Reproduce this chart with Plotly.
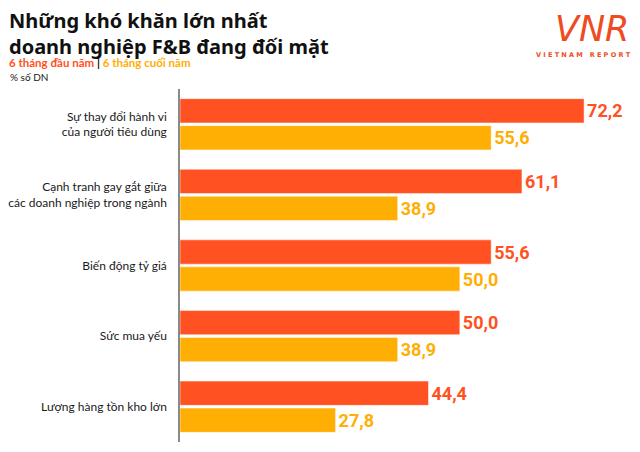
import plotly.graph_objects as go

# data
CATEGORIES = [
    "Sự thay đổi hành vi<br>của người tiêu dùng",
    "Cạnh tranh gay gắt giữa<br>các doanh nghiệp trong ngành",
    "Biến động tỷ giá",
    "Sức mua yếu",
    "Lượng hàng tồn kho lớn",
]
FIRST_HALF = [72.2, 61.1, 55.6, 50.0, 44.4]
SECOND_HALF = [55.6, 38.9, 50.0, 38.9, 27.8]
SERIES_NAMES = ["6 tháng đầu năm", "6 tháng cuối năm"]

TITLE = "Những khó khăn lớn nhất<br>doanh nghiệp F&B đang đối mặt"
UNIT = "% số DN"

RED = "#FF5121"
ORANGE = "#FFAE03"

# the page body has an 8px margin, so the figure is drawn 8px in from the corner
OFF = 8
W, H = 640 - OFF, 452 - OFF
M_L, M_R, M_T, M_B = 180 - OFF, 10, 89 - OFF, 10


def px_x(p):
    # window pixel x -> paper coordinate
    return (p - OFF - M_L) / (W - M_L - M_R)


def px_y(p):
    return 1 - (p - OFF - M_T) / (H - M_T - M_B)


def fmt(v):
    return f"{v:.1f}".replace(".", ",")


fig = go.Figure()
for name, vals, col in [(SERIES_NAMES[0], FIRST_HALF, RED),
                        (SERIES_NAMES[1], SECOND_HALF, ORANGE)]:
    fig.add_trace(go.Bar(
        y=CATEGORIES, x=vals, name=name, orientation="h",
        marker=dict(color=col, line=dict(color="rgba(255,255,255,0.5)", width=1)),
        text=[fmt(v) for v in vals],
        textposition="outside",
        constraintext="none",
        cliponaxis=False,
        textfont=dict(family="Roboto, sans-serif", size=18, color=col, weight="bold"),
        hoverinfo="skip",
    ))

fig.update_layout(
    width=W, height=H,
    margin=dict(l=M_L, r=M_R, t=M_T, b=M_B, autoexpand=False),
    barmode="group", bargap=0.235, bargroupgap=0.1,
    showlegend=False,
    plot_bgcolor="white", paper_bgcolor="white",
    xaxis=dict(range=[0, 80.4], visible=False, fixedrange=True, automargin=False),
    yaxis=dict(autorange="reversed", showline=True, linecolor="#8a8a8a", linewidth=1.5,
               ticks="", ticklabelstandoff=9, showgrid=False, automargin=False,
               tickfont=dict(family="Lato, sans-serif", size=12, color="#1a1a1a")),
    font=dict(family="Lato, sans-serif"),
)

fig.add_annotation(
    text=f"<b>{TITLE}</b>", xref="paper", yref="paper",
    x=px_x(8), y=px_y(6), xanchor="left", yanchor="top", align="left",
    showarrow=False, borderpad=0,
    font=dict(family="Noto Sans, sans-serif", size=20, color="#111111"),
)
fig.add_annotation(
    text=(f"<b><span style='color:{RED}'>{SERIES_NAMES[0]}</span> "
          f"<span style='color:#111'>|</span> "
          f"<span style='color:{ORANGE}'>{SERIES_NAMES[1]}</span></b>"),
    xref="paper", yref="paper", x=px_x(8), y=px_y(55),
    xanchor="left", yanchor="top", align="left", showarrow=False, borderpad=0,
    font=dict(family="Lato, sans-serif", size=11.5),
)
fig.add_annotation(
    text=UNIT, xref="paper", yref="paper", x=px_x(9), y=px_y(70),
    xanchor="left", yanchor="top", showarrow=False, borderpad=0,
    font=dict(family="Lato, sans-serif", size=10, color="#222222"),
)
# logo
fig.add_annotation(
    text="<i>VNR</i>", xref="paper", yref="paper", x=px_x(630), y=px_y(8),
    xanchor="right", yanchor="top", showarrow=False, borderpad=0,
    font=dict(family="DejaVu Sans, sans-serif", size=35, color="#EF4B23"),
)
fig.add_annotation(
    text="<b>V I E T N A M   R E P O R T</b>", xref="paper", yref="paper",
    x=px_x(632), y=px_y(50), xanchor="right", yanchor="top", showarrow=False,
    borderpad=0,
    font=dict(family="DejaVu Sans, sans-serif", size=6.5, color="#EF4B23"),
)

fig.write_html("out.html")
